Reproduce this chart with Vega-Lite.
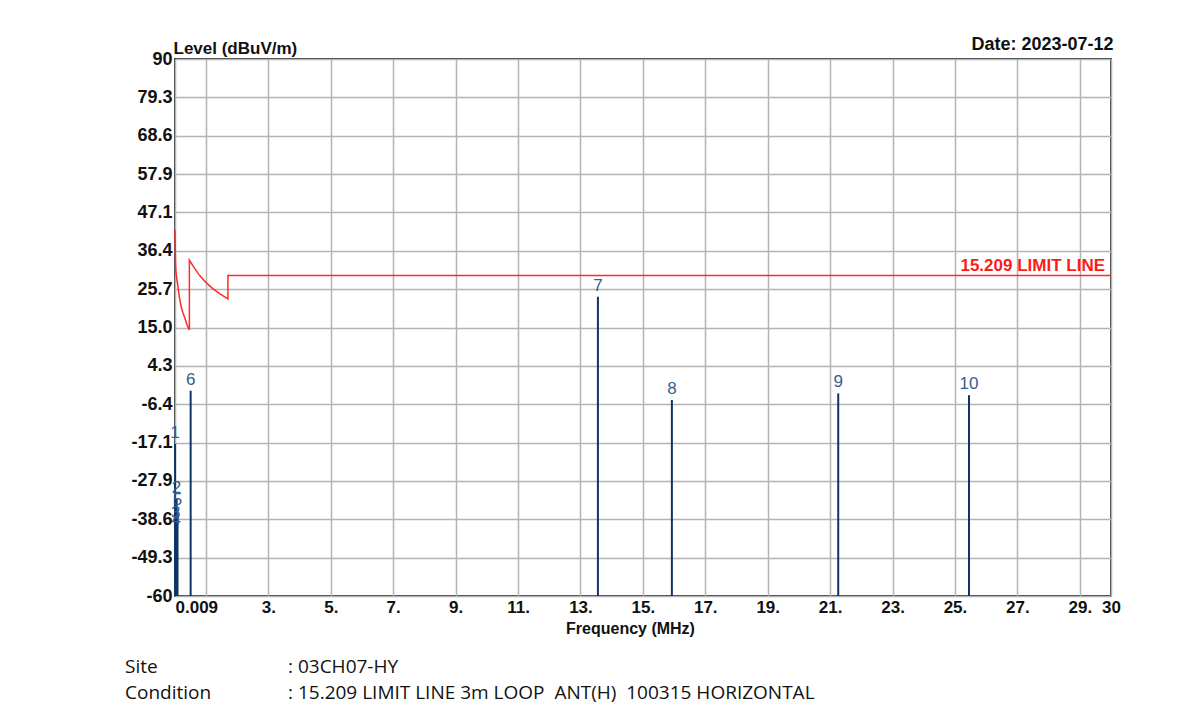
{
  "$schema": "https://vega.github.io/schema/vega-lite/v6.json",
  "background": "white",
  "padding": {"left": 125, "top": 34, "right": 10, "bottom": 10},
  "bounds": "flush",
  "spacing": 58,
  "config": {
    "view": {"stroke": null},
    "font": "Liberation Sans"
  },
  "datasets": {
    "limit": [
      {"freq": 0.009, "level": 42.2},
      {"freq": 0.025, "level": 33.5},
      {"freq": 0.04, "level": 30.4},
      {"freq": 0.07, "level": 28.4},
      {"freq": 0.105, "level": 26.4},
      {"freq": 0.15, "level": 23.4},
      {"freq": 0.2, "level": 21.0},
      {"freq": 0.26, "level": 19.2},
      {"freq": 0.33, "level": 17.5},
      {"freq": 0.4, "level": 15.6},
      {"freq": 0.47, "level": 14.3},
      {"freq": 0.47, "level": 33.8},
      {"freq": 0.6, "level": 32.0},
      {"freq": 0.8, "level": 29.5},
      {"freq": 1.0, "level": 27.6},
      {"freq": 1.2, "level": 26.0},
      {"freq": 1.45, "level": 24.4},
      {"freq": 1.705, "level": 23.0},
      {"freq": 1.705, "level": 29.5},
      {"freq": 30, "level": 29.5}
    ],
    "markers": [
      {"id": "1", "freq": 0.012, "level": -17.5},
      {"id": "3", "freq": 0.03, "level": -39.8},
      {"id": "4", "freq": 0.045, "level": -41.8},
      {"id": "2", "freq": 0.06, "level": -32.9},
      {"id": "5", "freq": 0.09, "level": -36.2},
      {"id": "6", "freq": 0.51, "level": -2.65},
      {"id": "7", "freq": 13.56, "level": 23.6},
      {"id": "8", "freq": 15.93, "level": -5.25},
      {"id": "9", "freq": 21.26, "level": -3.4},
      {"id": "10", "freq": 25.45, "level": -3.9}
    ],
    "footer": [
      {"line": 1, "name": "Site", "value": ": 03CH07-HY"},
      {"line": 2, "name": "Condition", "value": ": 15.209 LIMIT LINE 3m LOOP\u00a0 ANT(H)\u00a0 100315 HORIZONTAL"}
    ]
  },
  "vconcat": [
    {
      "width": 936,
      "height": 537,
      "view": {"stroke": "#3a3a3a", "strokeWidth": 2},
      "resolve": {"axis": {"x": "independent"}},
      "layer": [
        {
          "data": {"name": "limit"},
          "mark": {"type": "line", "color": "#ff2a2a", "strokeWidth": 1.5},
          "encoding": {
            "x": {
              "field": "freq",
              "type": "quantitative",
              "scale": {"domain": [0.009, 30], "nice": false, "zero": false},
              "axis": {
                "values": [0.009, 1, 3, 5, 7, 9, 11, 13, 15, 17, 19, 21, 23, 25, 27, 29, 30],
                "tickCount": 30,
                "labelExpr": "datum.value < 0.1 ? '0.009' : datum.value == 1 ? '' : datum.value == 30 ? '30' : datum.label + '.'",
                "labelAlign": {"condition": {"test": "datum.value < 0.1", "value": "left"}, "value": "center"},
                "labelOverlap": false,
                "labelFont": "Liberation Sans",
                "labelFontSize": 17,
                "labelFontWeight": "bold",
                "labelColor": "#111111",
                "labelPadding": 3,
                "ticks": false,
                "domain": false,
                "grid": true,
                "gridColor": "#b3b3b3",
                "gridWidth": 1.5,
                "title": "Frequency (MHz)",
                "titleFont": "Liberation Sans",
                "titleFontSize": 16,
                "titleFontWeight": "bold",
                "titleColor": "#111111",
                "titlePadding": 5,
                "titleX": 455
              }
            },
            "y": {
              "field": "level",
              "type": "quantitative",
              "scale": {"domain": [-60, 90], "nice": false, "zero": false},
              "axis": {
                "values": [-60, -49.2857, -38.5714, -27.8571, -17.1429, -6.4286, 4.2857, 15, 25.7143, 36.4286, 47.1429, 57.8571, 68.5714, 79.2857, 90],
                "tickCount": 30,
                "labelExpr": "datum.value == 90 ? '90' : datum.value == -60 ? '-60' : datum.value < 0 ? '-' + format(-datum.value, '.1f') : format(datum.value, '.1f')",
                "labelOverlap": false,
                "labelFont": "Liberation Sans",
                "labelFontSize": 18,
                "labelFontWeight": "bold",
                "labelColor": "#111111",
                "labelPadding": 3,
                "ticks": false,
                "domain": false,
                "grid": true,
                "gridColor": "#b3b3b3",
                "gridWidth": 1.5,
                "title": "Level (dBuV/m)",
                "titleAngle": 0,
                "titleAlign": "left",
                "titleBaseline": "alphabetic",
                "titleX": -2,
                "titleY": -6,
                "titleFont": "Liberation Sans",
                "titleFontSize": 17,
                "titleFontWeight": "bold",
                "titleColor": "#111111"
              }
            },
            "order": {"value": null}
          }
        },
        {
          "data": {"name": "markers"},
          "mark": {"type": "rule", "color": "#0d3566", "strokeWidth": 2},
          "encoding": {
            "x": {"field": "freq", "type": "quantitative", "axis": null},
            "y": {"field": "level", "type": "quantitative"},
            "y2": {"datum": -60}
          }
        },
        {
          "data": {"name": "markers"},
          "mark": {"type": "text", "color": "#335f92", "font": "Liberation Sans", "fontSize": 17, "baseline": "alphabetic", "dy": -6},
          "encoding": {
            "x": {"field": "freq", "type": "quantitative", "axis": null},
            "y": {"field": "level", "type": "quantitative"},
            "text": {"field": "id"}
          }
        },
        {
          "data": {"name": "limit"},
          "transform": [{"filter": "datum.freq == 30"}],
          "mark": {"type": "text", "color": "#ff1a1a", "font": "Liberation Sans", "fontSize": 17, "fontWeight": "bold", "align": "right", "baseline": "alphabetic", "dx": -6, "dy": -5},
          "encoding": {
            "x": {
              "field": "freq",
              "type": "quantitative",
              "axis": {
                "orient": "top",
                "labels": false,
                "ticks": false,
                "domain": false,
                "grid": false,
                "title": "Date: 2023-07-12",
                "titleFont": "Liberation Sans",
                "titleFontSize": 18,
                "titleFontWeight": "bold",
                "titleColor": "#111111",
                "titleAlign": "right",
                "titleBaseline": "alphabetic",
                "titleAngle": 0,
                "titleX": 938,
                "titleY": -10
              }
            },
            "y": {"field": "level", "type": "quantitative"},
            "text": {"value": "15.209 LIMIT LINE"}
          }
        }
      ]
    },
    {
      "width": 936,
      "height": 52,
      "data": {"name": "footer"},
      "transform": [{"fold": ["name", "value"], "as": ["col", "txt"]}],
      "mark": {"type": "text", "align": "left", "baseline": "middle", "font": "Open Sans", "fontSize": 19, "color": "#111111"},
      "encoding": {
        "y": {"field": "line", "type": "ordinal", "axis": null},
        "x": {"field": "col", "type": "nominal", "axis": null, "scale": {"type": "point", "domain": ["name", "value"], "range": [-50, 113], "padding": 0}},
        "text": {"field": "txt"}
      }
    }
  ]
}
